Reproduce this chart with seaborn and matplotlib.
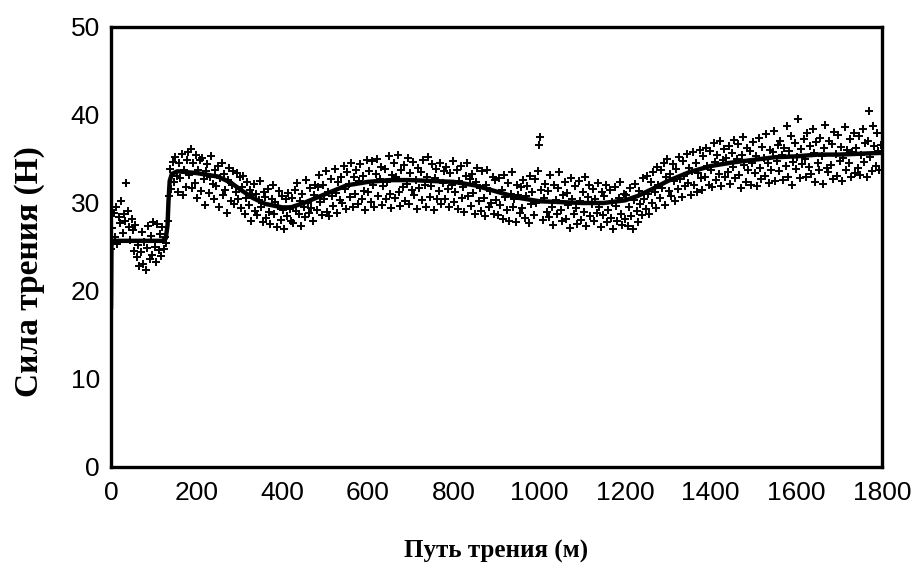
import numpy as np
import pandas as pd
import matplotlib
matplotlib.use("Agg")
import matplotlib.pyplot as plt
import seaborn as sns

# Friction-force measurements, one reading every 3 m of sliding path (N)
step_m = 3
force_readings = [
    24.8, 27.2, 28.9, 26.1, 29.6, 25.3, 28.4, 27.7, 30.2, 26.6, 28.8, 27.9, 32.3, 29.1, 27.3, 25.8, 28.2, 26.9, 24.6, 27.5,
    23.9, 25.2, 22.8, 24.4, 26.7, 23.1, 25.6, 22.4, 24.9, 27.4, 23.6, 26.2, 24.1, 27.8, 25.0, 23.3, 27.6, 24.7, 26.5, 24.0,
    27.3, 24.8, 26.1, 25.5, 27.9, 30.8, 33.9, 31.6, 34.7, 32.4, 35.2, 33.1, 31.2, 34.5, 32.8, 35.6, 30.9, 33.7, 31.8, 34.9,
    35.8, 33.2, 36.1, 31.7, 34.6, 32.3, 35.4, 30.6, 33.8, 34.9, 31.4, 35.1, 32.7, 29.8, 33.6, 34.4, 31.1, 33.0, 35.3, 32.2,
    30.5, 33.7, 31.9, 34.2, 29.6, 32.8, 34.5, 30.9, 33.3, 31.5, 28.9, 32.6, 34.0, 30.2, 32.1, 33.6, 29.9, 31.2, 33.4, 30.4,
    32.9, 29.4, 31.8, 33.1, 28.7, 30.6, 32.4, 29.8, 31.5, 27.9, 30.9, 32.2, 29.1, 31.0, 28.6, 30.3, 32.5, 29.5, 27.8, 31.3,
    30.7, 28.3, 31.6, 29.0, 27.6, 30.4, 32.0, 28.8, 30.1, 27.3, 29.7, 31.4, 28.1, 30.8, 29.2, 27.0, 30.5, 28.5, 31.1, 29.3,
    28.0, 30.6, 27.7, 31.5, 29.1, 32.3, 28.7, 30.2, 27.4, 31.0, 29.6, 28.4, 32.6, 30.0, 28.9, 31.7, 29.4, 27.9, 30.9, 32.1,
    29.2, 31.8, 33.2, 30.1, 28.6, 32.0, 30.5, 33.6, 29.0, 31.3, 28.5, 32.7, 30.8, 29.7, 33.9, 31.1, 28.9, 32.4, 30.3, 33.0,
    30.0, 34.2, 31.6, 29.3, 33.5, 32.2, 30.7, 34.6, 29.6, 32.9, 31.0, 33.8, 29.9, 32.5, 34.4, 30.4, 33.1, 31.4, 29.2, 34.9,
    31.2, 33.6, 30.1, 34.8, 32.0, 29.5, 33.3, 35.0, 30.8, 32.7, 34.1, 29.8, 31.9, 33.9, 30.5, 32.4, 35.3, 31.0, 29.4, 33.2,
    34.5, 30.6, 32.9, 35.4, 31.3, 29.7, 33.7, 31.8, 34.3, 30.2, 32.2, 35.1, 29.9, 33.4, 31.5, 34.7, 30.9, 32.6, 29.3, 34.0,
    31.7, 33.5, 30.3, 34.9, 32.1, 29.6, 33.0, 35.2, 30.7, 31.9, 34.4, 29.2, 32.8, 33.9, 30.5, 31.4, 34.6, 29.9, 32.3, 33.6,
    30.4, 34.1, 31.6, 29.5, 33.4, 32.0, 34.8, 30.1, 31.2, 33.7, 29.3, 32.5, 34.2, 30.6, 31.8, 29.0, 33.1, 34.5, 30.8, 32.7,
    29.7, 33.3, 31.1, 28.8, 32.4, 34.0, 30.2, 31.7, 29.1, 33.6, 30.6, 28.5, 32.1, 33.8, 29.5, 31.4, 30.0, 33.0, 28.7, 32.6,
    30.3, 28.6, 32.8, 29.8, 31.5, 28.2, 33.2, 30.7, 29.2, 32.3, 28.0, 31.0, 33.5, 29.6, 30.4, 27.8, 32.0, 30.9, 28.9, 31.8,
    29.4, 32.6, 28.3, 30.8, 31.9, 27.7, 33.1, 29.9, 31.2, 28.6, 32.7, 30.0, 33.6, 36.6, 37.5, 31.5, 28.1, 30.6, 32.2, 29.0,
    31.4, 28.4, 33.2, 29.6, 27.5, 32.0, 30.3, 28.8, 31.7, 33.5, 29.2, 27.9, 30.9, 32.4, 28.2, 31.1, 29.8, 27.2, 32.8, 30.5,
    28.7, 31.9, 29.4, 27.6, 32.5, 30.2, 28.1, 31.3, 29.0, 33.0, 27.4, 30.7, 32.1, 28.5, 29.9, 31.6, 27.9, 30.4, 28.9, 32.3,
    29.5, 27.3, 31.2, 28.6, 30.8, 32.0, 27.8, 29.2, 31.5, 28.3, 30.1, 27.1, 31.8, 29.7, 28.0, 30.6, 32.4, 28.7, 27.5, 31.0,
    28.2, 30.9, 27.4, 29.6, 31.7, 28.5, 27.0, 30.3, 32.2, 29.1, 27.8, 31.4, 29.9, 28.6, 32.8, 30.5, 29.3, 33.1, 31.0, 28.8,
    32.4, 30.0, 33.5, 31.2, 29.4, 34.1, 32.0, 30.6, 33.8, 31.7, 34.6, 29.8, 32.9, 35.0, 31.4, 33.3, 30.8, 34.4, 32.5, 30.2,
    33.9, 31.6, 35.2, 32.7, 30.7, 34.8, 33.1, 31.9, 35.6, 32.3, 34.0, 30.9, 33.6, 35.8, 32.0, 34.5, 31.3, 33.4, 36.0, 32.8,
    31.5, 35.3, 33.0, 36.3, 34.2, 32.1, 35.9, 33.7, 31.8, 36.8, 34.7, 32.6, 35.5, 33.3, 37.0, 31.9, 34.9, 36.1, 32.9, 35.1,
    33.5, 36.5, 32.2, 35.7, 34.1, 37.2, 32.8, 35.0, 36.7, 33.2, 31.7, 35.4, 37.5, 34.3, 32.4, 36.2, 33.8, 35.9, 32.0, 34.6,
    36.9, 33.4, 35.3, 31.9, 37.4, 34.0, 32.7, 36.4, 35.1, 33.1, 37.8, 34.5, 32.3, 36.0, 33.7, 35.8, 38.2, 32.5, 34.8, 36.6,
    33.6, 37.1, 35.5, 32.6, 36.3, 34.2, 38.7, 33.0, 35.9, 37.6, 32.1, 34.7, 36.8, 33.9, 35.2, 39.6, 32.8, 36.1, 34.4, 37.3,
    35.0, 32.9, 37.9, 34.1, 36.5, 33.3, 38.4, 35.7, 32.4, 36.9, 34.6, 33.8, 37.4, 35.3, 32.2, 36.2, 38.9, 34.0, 33.5, 37.0,
    34.3, 36.7, 32.7, 38.1, 35.6, 33.1, 37.7, 34.8, 36.4, 32.5, 35.1, 38.6, 33.7, 36.0, 34.5, 37.3, 32.9, 35.8, 38.0, 33.4,
    36.3, 34.0, 37.6, 33.2, 35.4, 38.4, 34.7, 36.8, 33.0, 37.1, 40.5, 35.2, 33.6, 38.8, 36.5, 34.2, 37.9, 35.9, 33.8, 36.6,
]
path_m = np.arange(len(force_readings)) * step_m

# Smoothed friction-force trend
trend_path = [0, 1, 40, 80, 120, 128, 132, 134, 137, 142, 155, 200, 250, 280, 300, 330,
              360, 400, 420, 450, 500, 550, 600, 650, 700, 750, 800, 850, 900, 950,
              1000, 1050, 1100, 1150, 1200, 1230, 1260, 1300, 1350, 1400, 1450, 1500,
              1550, 1600, 1650, 1700, 1750, 1800]
trend_force = [18.0, 25.7, 25.7, 25.7, 25.7, 26.0, 27.5, 30.0, 32.5, 33.3, 33.6, 33.4, 33.0, 32.3, 31.6, 30.6,
               29.9, 29.5, 29.5, 30.0, 31.0, 32.0, 32.4, 32.6, 32.6, 32.5, 32.4, 32.0, 31.3, 30.6,
               30.2, 30.1, 30.0, 30.0, 30.3, 30.8, 31.5, 32.5, 33.5, 34.2, 34.6, 34.9,
               35.2, 35.3, 35.5, 35.5, 35.6, 35.7]

x_ticks = [0, 200, 400, 600, 800, 1000, 1200, 1400, 1600, 1800]
y_ticks = [0, 10, 20, 30, 40, 50]
x_label = "Путь трения (м)"
y_label = "Сила трения (Н)"

points = pd.DataFrame({"path": path_m, "force": force_readings})
trend = pd.DataFrame({"path": trend_path, "force": trend_force})

sns.set_theme(style="white")
plt.rcParams["font.family"] = ["Liberation Sans", "DejaVu Sans"]

fig = plt.figure(figsize=(9.19, 5.73), dpi=100)
ax = fig.add_axes([0.1208, 0.185, 0.8389, 0.7679])

sns.scatterplot(data=points, x="path", y="force", marker="+", s=30,
                color="black", linewidth=1.4, ax=ax, zorder=2)
sns.lineplot(data=trend, x="path", y="force", color="black", linewidth=3.2,
             sort=False, estimator=None, ax=ax, zorder=3)

ax.set_xlim(0, 1800)
ax.set_ylim(0, 50)
ax.set_xticks(x_ticks)
ax.set_yticks(y_ticks)
ax.tick_params(axis="both", direction="inout", length=6, width=2, color="black",
               labelsize=19, labelcolor="black")
ax.tick_params(axis="x", pad=7)
ax.tick_params(axis="y", pad=5)
for side in ["left", "right", "top", "bottom"]:
    ax.spines[side].set_visible(True)
    ax.spines[side].set_color("black")
    ax.spines[side].set_linewidth(2.4)

serif_bold = dict(family=["Liberation Serif", "DejaVu Serif"], weight="bold", color="black")
ax.set_xlabel(x_label, fontsize=18, **serif_bold)
ax.set_ylabel(y_label, fontsize=24, **serif_bold)
ax.xaxis.set_label_coords(0.5, -0.165)
ax.yaxis.set_label_coords(-0.085, 0.445)

fig.savefig("out.png", dpi=100, facecolor="white")
